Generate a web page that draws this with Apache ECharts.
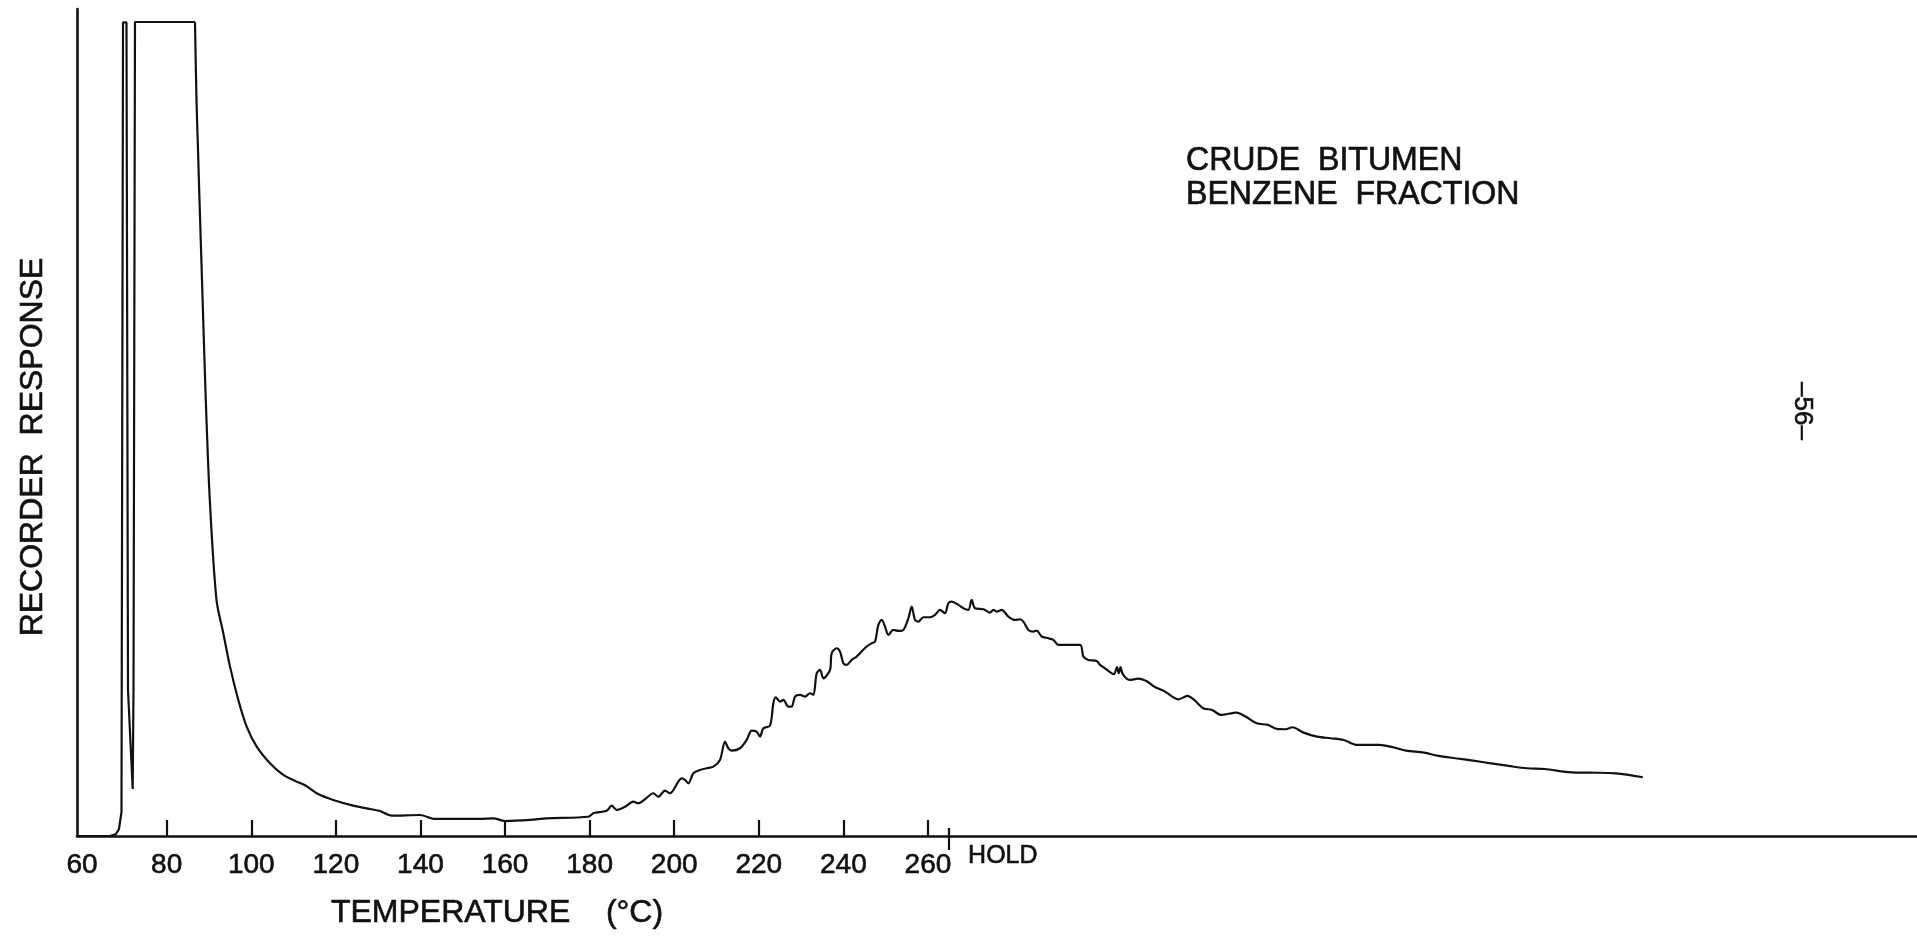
<!DOCTYPE html>
<html>
<head>
<meta charset="utf-8">
<title>Crude Bitumen – Benzene Fraction</title>
<script src="https://cdn.jsdelivr.net/npm/echarts@6/dist/echarts.min.js"></script>
<style>
  html, body { margin: 0; padding: 0; background: #fff; }
  #chart { width: 1917px; height: 937px; }
</style>
</head>
<body>
<div id="chart"></div>
<script>
// Temperature-programmed trace: [temperature °C, recorder response (% of full scale)].
// Past the HOLD mark the column is isothermal; the axis keeps running at the same chart speed.

// solvent peaks (pen goes off scale on the second one)
const solventPeaks = [
  [58.8, 0], [66.6, 0], [68.02, 0.24], [68.73, 0.85], [69.32, 2.9], [69.68, 98.38], [70.5, 98.38],
  [70.86, 17.66], [71.97, 5.69], [72.16, 17.66], [72.51, 98.43], [86.7, 98.43]
];

// solvent tail down to the baseline minimum
const solventTail = [
  [87.05, 89.03], [87.41, 82.98], [87.76, 76.93], [88.5, 64.84], [89.25, 52.74], [90.2, 40.64],
  [91.78, 28.55], [93.39, 24.52], [94.98, 20.48], [96.94, 16.45], [98.92, 13.22], [101.29, 10.8],
  [104.43, 8.79], [107.58, 7.38], [110.75, 6.57], [112.71, 6.13], [115.48, 5.17], [119.4, 4.35],
  [124.13, 3.67], [128.48, 3.23], [130.44, 3.02], [133.21, 2.46], [139.9, 2.54], [143.45, 2.06],
  [154.09, 2.06], [157.23, 2.14], [160.0, 1.81], [165.91, 1.94], [169.86, 2.14], [179.69, 2.33]
];

// rising side of the unresolved hump
const risingTrace = [
  [180.87, 2.75], [184.04, 3.06], [185.22, 3.67], [186.41, 3.15], [188.37, 3.54], [190.33, 4.15],
  [191.51, 3.96], [193.1, 4.44], [195.06, 5.17], [196.24, 4.75], [197.83, 5.48], [199.01, 5.17],
  [201.77, 6.98], [202.56, 6.78], [203.35, 6.37], [204.53, 7.58], [206.1, 7.99], [207.68, 8.19],
  [209.26, 8.39], [210.83, 9.2], [212.02, 11.41], [212.8, 10.61], [213.59, 10.33], [215.56, 10.61],
  [217.14, 11.62], [218.32, 12.75], [219.5, 12.62], [220.29, 12.02], [221.08, 13.03], [222.66, 13.35],
  [223.44, 16.05], [224.0, 16.78], [225.02, 16.25], [225.81, 16.45], [227.0, 15.65], [227.78, 15.65],
  [228.57, 16.86], [229.75, 17.06], [230.93, 16.86], [232.11, 17.26], [232.9, 17.06], [233.69, 19.68],
  [234.48, 20.08], [235.27, 19.07], [236.84, 20.08], [237.24, 22.1], [238.42, 22.7], [239.21, 22.3],
  [240.0, 20.89], [240.78, 20.69], [241.97, 21.29], [243.15, 21.7], [243.93, 22.1], [245.51, 22.91],
  [246.69, 23.31], [247.48, 23.51], [248.27, 25.53], [249.06, 26.13], [249.85, 25.33], [250.63, 24.32],
  [251.82, 24.92], [253.0, 24.8], [254.18, 24.92], [255.37, 26.33], [256.15, 27.74], [256.94, 26.13],
  [257.73, 25.93], [258.91, 26.45], [260.49, 26.45], [261.67, 26.74], [262.85, 27.34], [264.03, 26.94],
  [264.82, 28.15]
];

// isothermal hold: crest and slow decline
const holdTrace = [
  [265.61, 28.35], [267.19, 27.95], [268.37, 27.54], [269.55, 27.34], [270.34, 28.55], [271.13, 27.54],
  [273.1, 27.42], [274.67, 27.02], [275.46, 27.34], [276.25, 27.14], [277.43, 27.34], [279.01, 26.54],
  [280.59, 26.13], [281.77, 26.21], [282.56, 25.93], [283.74, 24.92], [284.92, 24.72], [285.71, 24.84],
  [286.89, 24.12], [288.47, 23.91], [289.65, 23.71], [290.83, 23.11], [295.95, 23.11], [296.74, 21.7],
  [297.92, 21.29], [299.89, 21.17], [300.68, 20.69], [301.83, 20.28], [303.95, 19.56], [304.68, 20.41],
  [305.11, 19.68], [305.53, 20.41], [306.06, 19.56], [307.64, 18.87], [309.75, 19.03], [311.86, 18.67],
  [313.45, 18.07], [316.08, 17.46], [319.25, 16.53], [321.36, 16.94], [322.95, 16.45], [325.06, 15.45],
  [327.17, 15.24], [329.28, 14.64], [332.97, 14.92], [335.08, 14.44], [337.72, 13.63], [340.36, 13.43],
  [342.47, 12.95], [344.58, 12.91], [346.17, 13.15], [348.8, 12.5], [351.97, 12.02], [355.14, 11.82],
  [358.3, 11.61], [361.47, 11.01], [366.75, 11.01], [369.92, 10.73], [373.08, 10.33], [377.3, 10.08],
  [380.47, 9.72], [384.7, 9.4], [388.92, 9.11], [393.14, 8.79], [397.36, 8.47], [401.58, 8.19],
  [405.8, 8.1], [412.14, 7.7], [416.36, 7.66], [422.69, 7.58], [429.03, 7.1]
];

// temperature scale
const tempTicks = [80, 100, 120, 140, 160, 180, 200, 220, 240, 260];
const tempLabels = [60, 80, 100, 120, 140, 160, 180, 200, 220, 240, 260];
const holdMark = 265;
const axisStart = 58.8;
const axisEnd = 493.85;

const FONT = "'Liberation Sans', Arial, sans-serif";
const INK = '#111';

const chart = echarts.init(document.getElementById('chart'), null, { renderer: 'canvas' });

// the sharp solvent peaks are drawn straight; everything after the pen comes back on scale is smoothed
const peakLine = solventPeaks;
const humpLine = [solventPeaks[solventPeaks.length - 1]].concat(solventTail, risingTrace, holdTrace);

const baseX = {
  type: 'value',
  min: axisStart,
  max: axisEnd,
  position: 'bottom',
  splitLine: { show: false },
  gridIndex: 0
};

const labelInk = { color: INK, fontFamily: FONT, textBorderColor: INK, textBorderWidth: 0.6 };
const textInk = { fill: INK, stroke: INK, lineWidth: 0.6 };

chart.setOption({
  animation: false,
  backgroundColor: '#fff',
  grid: { left: 77, right: 0, top: 9, bottom: 101, containLabel: false },
  xAxis: [
    Object.assign({}, baseX, {
      axisLine: { show: true, lineStyle: { color: INK, width: 2.6 } },
      axisTick: {
        show: true, inside: true, length: 16, customValues: tempTicks,
        lineStyle: { color: INK, width: 2.2 }
      },
      axisLabel: Object.assign({ show: true, customValues: tempLabels, margin: 15, fontSize: 28 }, labelInk)
    }),
    // HOLD marker: short tick above the line ...
    Object.assign({}, baseX, {
      axisLine: { show: false },
      axisTick: {
        show: true, inside: true, length: 8, customValues: [holdMark],
        lineStyle: { color: INK, width: 2.2 }
      },
      axisLabel: { show: false }
    }),
    // ... continuing below it, with its label
    Object.assign({}, baseX, {
      axisLine: { show: false },
      axisTick: {
        show: true, inside: false, length: 14, customValues: [holdMark],
        lineStyle: { color: INK, width: 2.2 }
      },
      axisLabel: Object.assign({
        show: true, customValues: [holdMark], margin: 8, align: 'left',
        padding: [0, 0, 0, 19], formatter: () => 'HOLD', fontSize: 25
      }, labelInk)
    })
  ],
  yAxis: {
    type: 'value',
    min: 0,
    max: 100,
    axisLine: { show: true, lineStyle: { color: INK, width: 2.6 } },
    axisTick: { show: false },
    axisLabel: { show: false },
    splitLine: { show: false }
  },
  series: [
    {
      type: 'line',
      data: peakLine,
      showSymbol: false,
      smooth: false,
      clip: false,
      lineStyle: { color: INK, width: 2.2 }
    },
    {
      type: 'line',
      data: humpLine,
      showSymbol: false,
      smooth: 0.3,
      clip: false,
      lineStyle: { color: INK, width: 2.2 }
    }
  ],
  graphic: [
    {
      type: 'text', x: 33, y: 447, rotation: Math.PI / 2,
      style: Object.assign({
        text: 'RECORDER  RESPONSE', font: '32px ' + FONT,
        align: 'center', verticalAlign: 'middle'
      }, textInk)
    },
    {
      type: 'text', x: 497, y: 913,
      style: Object.assign({
        text: 'TEMPERATURE    (°C)', font: '32px ' + FONT,
        align: 'center', verticalAlign: 'middle'
      }, textInk)
    },
    {
      type: 'text', x: 1186, y: 144, scaleX: 1.07, scaleY: 1.1,
      style: Object.assign({
        text: 'CRUDE  BITUMEN\nBENZENE  FRACTION', font: '30px ' + FONT,
        lineHeight: 31, align: 'left', verticalAlign: 'top'
      }, textInk)
    },
    {
      type: 'text', x: 1802, y: 411, rotation: -Math.PI / 2,
      style: Object.assign({
        text: '–56–', font: '26px ' + FONT,
        align: 'center', verticalAlign: 'middle'
      }, textInk)
    }
  ]
});
</script>
</body>
</html>
